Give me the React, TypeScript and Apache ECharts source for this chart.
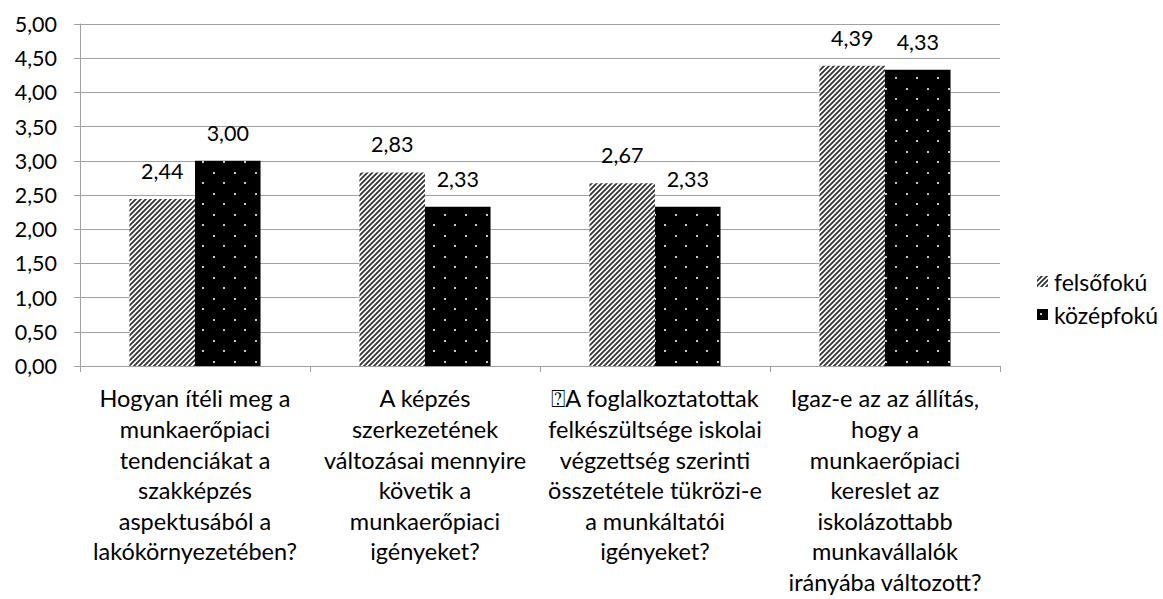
import React, { useEffect, useRef } from "react";
import * as echarts from "echarts";

const categories = [
  "Hogyan ítéli meg a\nmunkaerőpiaci\ntendenciákat a\nszakképzés\naspektusából a\nlakókörnyezetében?",
  "A képzés\nszerkezetének\nváltozásai mennyire\nkövetik a\nmunkaerőpiaci\nigényeket?",
  "⍰A foglalkoztatottak\nfelkészültsége iskolai\nvégzettség szerinti\nösszetétele tükrözi-e\na munkáltatói\nigényeket?",
  "Igaz-e az az állítás,\nhogy a\nmunkaerőpiaci\nkereslet az\niskolázottabb\nmunkavállalók\nirányába változott?",
];
const seriesNames = ["felsőfokú", "középfokú"];
const felsofoku = [2.44, 2.83, 2.67, 4.39];
const kozepfoku = [3.0, 2.33, 2.33, 4.33];

const FONT = "Lato, 'Open Sans', sans-serif";

function hatchPattern(): HTMLCanvasElement {
  const c = document.createElement("canvas");
  const s = 5;
  c.width = s;
  c.height = s;
  const ctx = c.getContext("2d")!;
  ctx.fillStyle = "#ffffff";
  ctx.fillRect(0, 0, s, s);
  ctx.strokeStyle = "#333333";
  ctx.lineWidth = 1.8;
  ctx.beginPath();
  ctx.moveTo(-1, s + 1);
  ctx.lineTo(s + 1, -1);
  ctx.moveTo(-1, 1);
  ctx.lineTo(1, -1);
  ctx.moveTo(s - 1, s + 1);
  ctx.lineTo(s + 1, s - 1);
  ctx.stroke();
  return c;
}

function dotPattern(): HTMLCanvasElement {
  const c = document.createElement("canvas");
  const w = 21;
  const h = 21;
  c.width = w;
  c.height = h;
  const ctx = c.getContext("2d")!;
  ctx.fillStyle = "#000000";
  ctx.fillRect(0, 0, w, h);
  ctx.fillStyle = "#c8c8c8";
  ctx.fillRect(3, 4, 2, 2);
  ctx.fillRect(13, 14, 2, 2);
  return c;
}

const fmt = (v: number) => v.toFixed(2).replace(".", ",");

export default function App() {
  const ref = useRef<HTMLDivElement>(null);
  useEffect(() => {
    if (!ref.current) return;
    const chart = echarts.init(ref.current, undefined, { renderer: "svg" });
    const hatch = { image: hatchPattern(), repeat: "repeat" };
    const dots = { image: dotPattern(), repeat: "repeat" };
    const labelStyle = {
      show: true,
      position: "top",
      distance: 17,
      color: "#000",
      fontFamily: FONT,
      fontSize: 21.5,
      formatter: (p: any) => fmt(p.value),
    };
    chart.setOption({
      animation: false,
      backgroundColor: "#ffffff",
      grid: {
        left: 80,
        right: 163,
        top: 24,
        bottom: 233,
        containLabel: false,
        outerBoundsMode: "none",
      },
      legend: {
        orient: "vertical",
        left: 1032,
        top: 265,
        itemWidth: 11,
        itemHeight: 11,
        itemGap: 10,
        icon: "rect",
        textStyle: { fontFamily: FONT, fontSize: 23, color: "#000", padding: [0, 0, 0, 1] },
        data: seriesNames,
      },
      xAxis: {
        type: "category",
        data: categories,
        axisLine: { lineStyle: { color: "#a0a0a0", width: 1 } },
        axisTick: { show: true, length: 6, lineStyle: { color: "#a0a0a0" } },
        axisLabel: {
          interval: 0,
          margin: 17,
          color: "#000",
          fontFamily: FONT,
          fontSize: 23.5,
          lineHeight: 30.6,
          align: "center",
        },
      },
      yAxis: {
        type: "value",
        min: 0,
        max: 5,
        interval: 0.5,
        axisLine: { show: true, lineStyle: { color: "#a0a0a0" } },
        axisTick: { show: true, length: 6, lineStyle: { color: "#a0a0a0" } },
        splitLine: { lineStyle: { color: "#a0a0a0", width: 1 } },
        axisLabel: {
          margin: 23,
          color: "#000",
          fontFamily: FONT,
          fontSize: 21.5,
          formatter: (v: number) => fmt(v),
        },
      },
      series: [
        {
          name: seriesNames[0],
          type: "bar",
          data: felsofoku,
          barGap: "0%",
          barCategoryGap: "43%",
          itemStyle: { color: hatch },
          label: labelStyle,
        },
        {
          name: seriesNames[1],
          type: "bar",
          data: kozepfoku,
          barGap: "0%",
          barCategoryGap: "43%",
          itemStyle: { color: dots },
          label: labelStyle,
        },
      ],
    });
    return () => chart.dispose();
  }, []);
  return (
    <div
      ref={ref}
      style={{ position: "absolute", left: 0, top: 0, width: 1163, height: 599, background: "#fff" }}
    />
  );
}
